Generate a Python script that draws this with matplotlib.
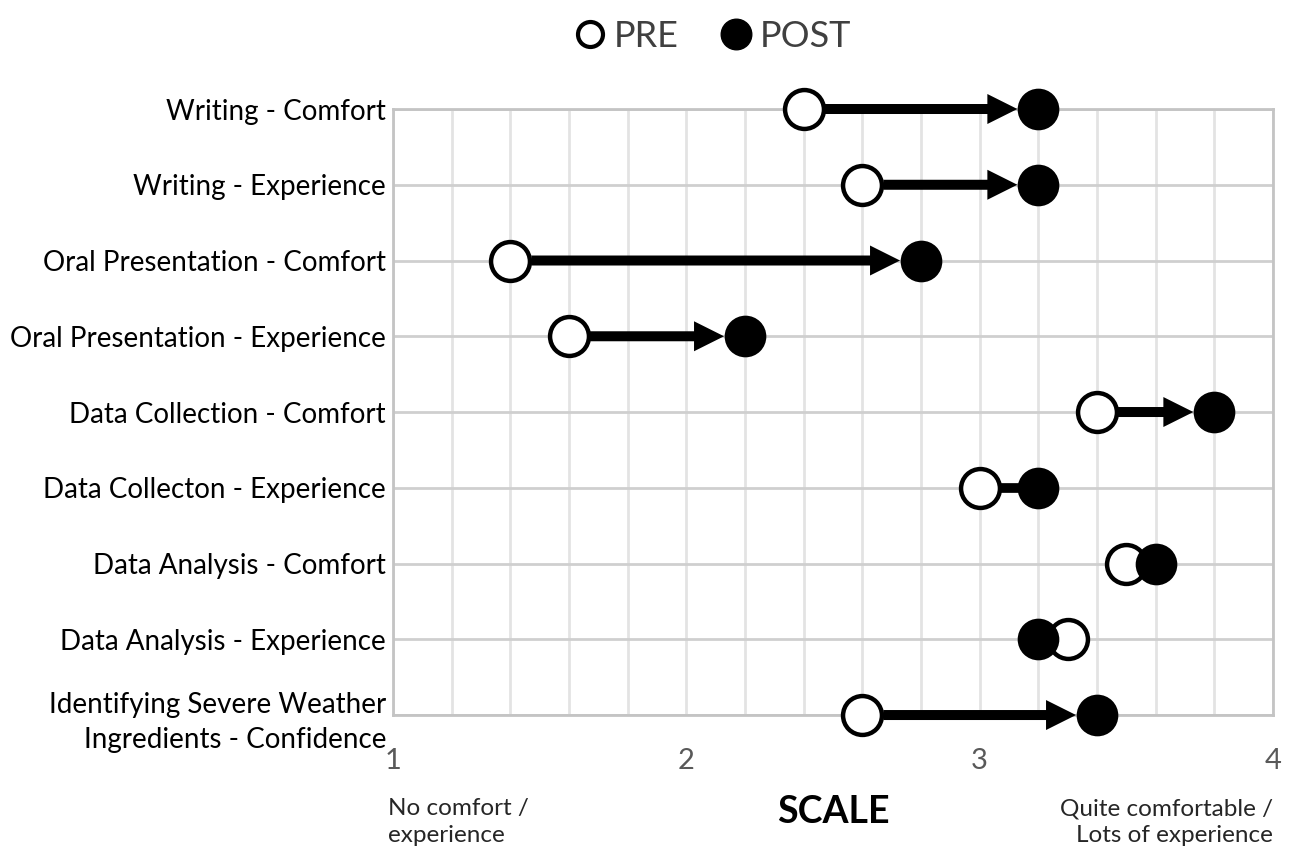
import numpy as np
import matplotlib
matplotlib.use('Agg')
import matplotlib.pyplot as plt
from matplotlib.lines import Line2D

# data
categories = ['Writing - Comfort', 'Writing - Experience', 'Oral Presentation - Comfort',
              'Oral Presentation - Experience', 'Data Collection - Comfort',
              'Data Collecton - Experience', 'Data Analysis - Comfort',
              'Data Analysis - Experience', 'Identifying Severe Weather\nIngredients - Confidence']
pre = [2.4, 2.6, 1.4, 1.6, 3.4, 3.0, 3.5, 3.3, 2.6]
post = [3.2, 3.2, 2.8, 2.2, 3.8, 3.2, 3.6, 3.2, 3.4]
xticks = [1, 2, 3, 4]

plt.rcParams['font.family'] = ['Lato', 'DejaVu Sans']

W, H = 13.01, 8.59
fig = plt.figure(figsize=(W, H), dpi=100)
ax = fig.add_axes([0.3021, 0.1676, 0.6764, 0.7055])

n = len(categories)
ypos = np.arange(n)
ax.set_xlim(1, 4)
ax.set_ylim(n - 1, 0)

# pixel -> data conversions for arrow geometry
bbox = ax.get_position()
px_x = (bbox.width * W * 100) / 3.0          # pixels per x unit
px_y = (bbox.height * H * 100) / (n - 1)     # pixels per row
r = 21 / px_x                                # marker radius in x units
head_len = 30 / px_x
head_w = 30 / px_y
shaft_w = 10 / px_y

for y, a, b in zip(ypos, pre, post):
    gap = b - a - 2 * r
    if gap > head_len:
        ax.arrow(a + r, y, b - a - 2 * r, 0, width=shaft_w, head_width=head_w,
                 head_length=head_len, length_includes_head=True, color='black',
                 lw=0, zorder=3, clip_on=False)
    elif b > a:
        ax.plot([a, b], [y, y], color='black', lw=7, solid_capstyle='butt', zorder=3)

ax.plot(pre, ypos, 'o', ms=28, mfc='white', mec='black', mew=3.2, ls='none',
        zorder=4, clip_on=False)
ax.plot(post, ypos, 'o', ms=30, mfc='black', mec='black', mew=0, ls='none',
        zorder=5, clip_on=False)

# grid
ax.set_xticks(np.arange(1, 4.01, 0.2), minor=True)
ax.set_xticks(xticks)
ax.set_xticklabels([str(t) for t in xticks], fontsize=21, color='#595959')
ax.tick_params(axis='x', which='both', length=0, pad=24)
ax.set_yticks(ypos)
ax.set_yticklabels(categories, fontsize=20, color='black', linespacing=1.45)
ax.tick_params(axis='y', length=0, pad=5)
ax.grid(axis='x', which='both', color='#e3e3e3', lw=2, zorder=0)
ax.grid(axis='y', color='#cfcfcf', lw=2, zorder=0)
ax.set_axisbelow(True)
for s in ax.spines.values():
    s.set_color('#c4c4c4')
    s.set_linewidth(2)

# legend
handles = [Line2D([], [], marker='o', ls='none', ms=18, mfc='white', mec='black', mew=3),
           Line2D([], [], marker='o', ls='none', ms=22, mfc='black', mec='black')]
fig.legend(handles, ['PRE', 'POST'], loc='center', bbox_to_anchor=(710 / 1301, 0.958),
           ncol=2, frameon=False, fontsize=26, labelcolor='#404040',
           handletextpad=0.05, columnspacing=1.0, handlelength=1.2)

# axis annotations
fig.text(833 / 1301, 1 - 812 / 859, 'SCALE', ha='center', va='center',
         fontsize=27, fontweight='bold', color='black')
fig.text(388 / 1301, 1 - 822 / 859, 'No comfort /\nexperience', ha='left', va='center',
         fontsize=17.5, color='#262626', linespacing=1.3)
fig.text(1273 / 1301, 1 - 822 / 859, 'Quite comfortable /\nLots of experience',
         ha='right', va='center', fontsize=17.5, color='#262626', linespacing=1.3)

fig.savefig('out.png', dpi=100)
